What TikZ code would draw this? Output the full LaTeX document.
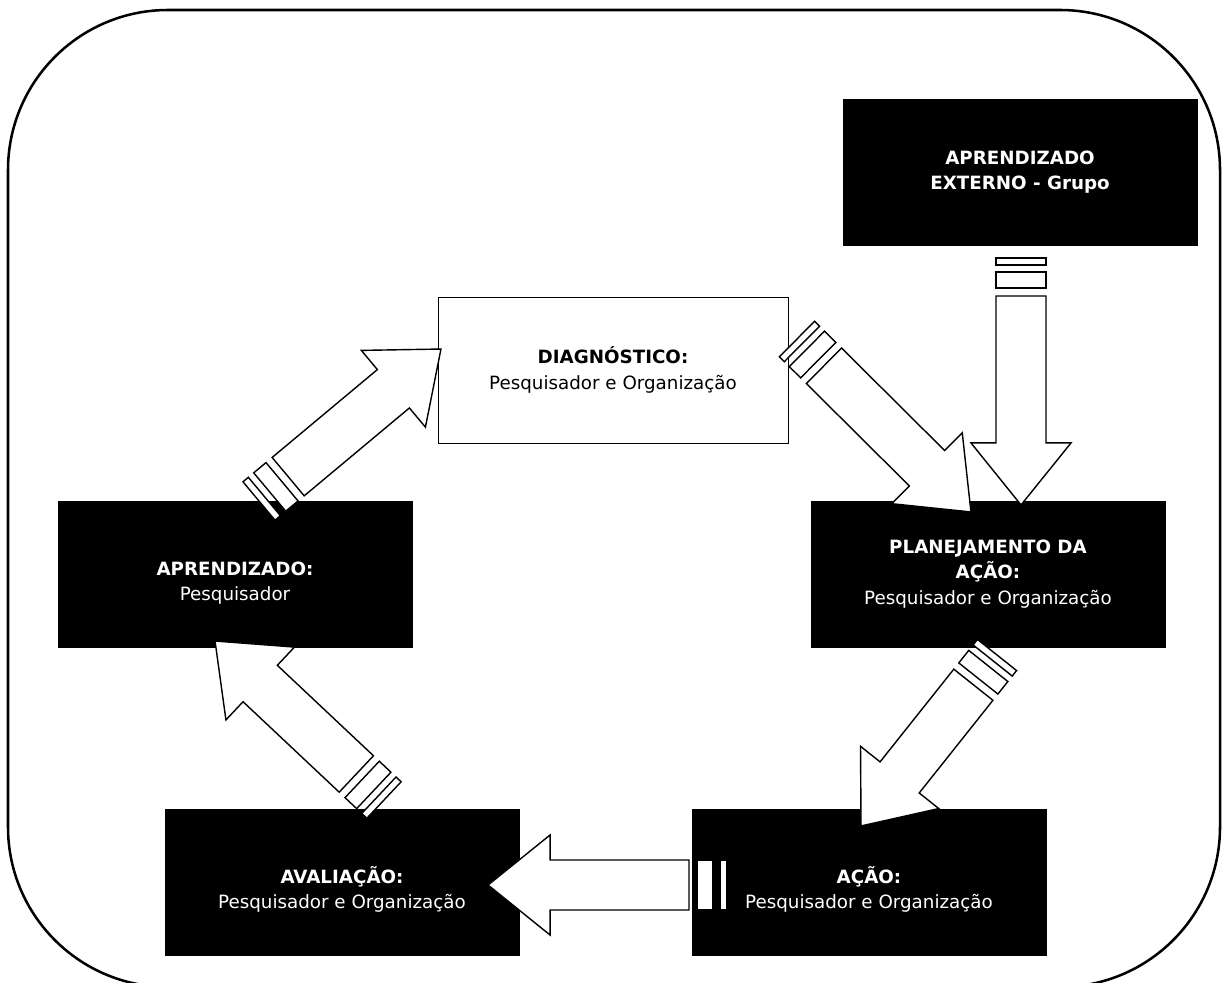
\documentclass[tikz,border=0pt]{standalone}
\usepackage{fontspec}
\setmainfont{DejaVu Sans}
\usepackage{tikz}
\usetikzlibrary{calc}

% striped block arrow from #1 (tail) to #2 (tip)
\newcommand\stripedarrow[2]{%
  \path ($(#2)-(#1)$);
  \pgfgetlastxy{\arrdx}{\arrdy}%
  \pgfmathsetmacro\arrang{atan2(\arrdy,\arrdx)}%
  \pgfmathsetmacro\arrlen{veclen(\arrdx,\arrdy)/0.71131}%
  \begin{scope}[shift={(#1)}, rotate=\arrang, x=0.025cm, y=0.025cm]
    \draw[arrowpart] (0,-25) rectangle (7,25);
    \draw[arrowpart] (14,-25) rectangle (30,25);
    \draw[arrowpart] (38,-25) -- (\arrlen-62,-25) -- (\arrlen-62,-50) -- (\arrlen,0)
      -- (\arrlen-62,50) -- (\arrlen-62,25) -- (38,25) -- cycle;
  \end{scope}}
\newcommand\lowstrut{\rule{0pt}{23pt}}

\begin{document}
\begin{tikzpicture}[x=0.025cm, y=-0.025cm,
  darkbox/.style={draw=black, fill=black, text=white, align=center,
    minimum width=8.85cm, minimum height=3.65cm, inner sep=0pt,
    font=\fontsize{13}{18}\selectfont},
  lightbox/.style={darkbox, fill=white, text=black, minimum width=8.75cm},
  arrowpart/.style={draw=black, fill=white, line width=1pt}]
\path[use as bounding box, clip] (0,0) rectangle (1227,983);

% frame
\draw[line width=1.8pt, rounded corners=4cm] (8,10) rectangle (1220,987);

% boxes
\node[lightbox] (diag) at (613,370) {\textbf{DIAGNÓSTICO:}\\Pesquisador e Organização};
\node[darkbox] (externo) at (1020,172) {\textbf{APRENDIZADO}\\\textbf{EXTERNO - Grupo}};
\node[darkbox] (plan) at (988,574) {\textbf{PLANEJAMENTO DA}\\\textbf{AÇÃO:}\\Pesquisador e Organização};
\node[darkbox] (acao) at (869,882) {\lowstrut\textbf{AÇÃO:}\\Pesquisador e Organização};
\node[darkbox] (aval) at (342,882) {\lowstrut\textbf{AVALIAÇÃO:}\\Pesquisador e Organização};
\node[darkbox] (aprend) at (235,574) {\lowstrut\textbf{APRENDIZADO:}\\Pesquisador};

% arrow ends
\coordinate (e1) at (1021,258);  \coordinate (e2) at (1021,505);
\coordinate (d1) at (797,339);   \coordinate (d2) at (971,512);
\coordinate (p1) at (997,655);   \coordinate (p2) at (861,826);
\coordinate (c1) at (727,885);   \coordinate (c2) at (488,885);
\coordinate (v1) at (384,800);   \coordinate (v2) at (215,641);
\coordinate (a1) at (259,501);   \coordinate (a2) at (441,349);

\stripedarrow{e1}{e2}
\stripedarrow{d1}{d2}
\stripedarrow{p1}{p2}
\stripedarrow{c1}{c2}
\stripedarrow{v1}{v2}
\stripedarrow{a1}{a2}
\end{tikzpicture}
\end{document}
